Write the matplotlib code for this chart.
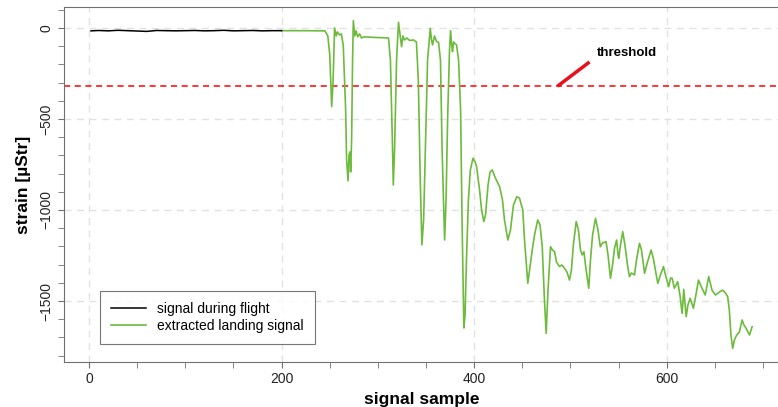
import matplotlib
matplotlib.use("Agg")
import matplotlib.pyplot as plt

plt.rcParams['font.family'] = ['Liberation Sans', 'DejaVu Sans']

# signal during flight (black)
flight_x = [2, 10, 20, 30, 40, 50, 60, 70, 80, 90, 100, 110, 120, 130, 140,
            150, 160, 170, 180, 190, 200]
flight_y = [-16, -14, -16, -13, -15, -17, -19, -14, -15, -16, -15, -14, -16,
            -15, -13, -16, -15, -14, -16, -15, -15]

# extracted landing signal (green)
land_x = [200, 219, 245, 248, 250, 252, 253.5, 255, 256.7, 258, 260, 262, 264,
          266.5, 267.5, 269, 270, 271, 271.7, 272.7, 273.7, 274.5, 276, 277.4,
          279, 281, 283, 286, 296, 311, 313, 315, 316, 317.3, 319.4, 321.4,
          323, 324.6, 326, 327.7, 330, 333, 337, 340, 342, 344, 345.7, 347.5,
          349.5, 351.6, 354.4, 355.7, 356.8, 358.8, 361, 363, 365, 366.7,
          369.3, 370.8, 372.4, 374.4, 375.5, 376.6, 377.5, 378.6, 379.6, 381.7,
          383.8, 385.9, 387.4, 389.3, 390.5, 392, 394, 396, 398.8, 401, 402.5,
          405.6, 407.7, 410, 411.8, 414.4, 416.5, 418.8, 422, 426.4, 429.4,
          431.5, 435, 437.7, 440.8, 444.3, 447, 450.5, 452.3, 455.7, 457.5,
          460.3, 462.7, 466, 468.4, 470.7, 473, 474.8, 476.7, 479.3, 481.3,
          483.5, 485.5, 488.6, 491, 493.8, 496.4, 499, 501, 503, 506, 508.3,
          510.4, 512.2, 514, 515.6, 519, 520.8, 523, 526, 528.6, 531, 533.3,
          537, 539, 541.6, 543.7, 545.8, 548, 549.4, 550.2, 552, 554.3, 556.6,
          559.2, 561.3, 563.4, 566.5, 568.6, 571.7, 573.8, 577, 580, 583.8,
          586, 590.7, 593.5, 596.6, 598.7, 602, 604, 605.6, 608, 611.4, 613.7,
          616, 617.7, 620.2, 622, 624.3, 627.7, 630.3, 633, 636, 640, 643.6,
          647, 650.6, 654.7, 658, 661, 663.3, 665, 666.7, 668.5, 670.3, 672.7,
          675.5, 678.3, 680.2, 682.5, 686, 688.7]
land_y = [-15, -15, -16, -44, -148, -432, -286, 0, -44, -22, -38, -33, -93,
          -450, -725, -840, -698, -681, -791, -615, -176, 40, -44, -16,
          -49, -33, -55, -49, -52, -55, -176, -615, -863, -670, -176, 31,
          -38, -103, -44, -66, -55, -69, -66, -77, -286, -835, -1192, -1055,
          -615, -176, -2, -66, -93, -44, -75, -79, -176, -670,
          -1165, -945, -505, -121, -15, -93, -130, -77, -84, -93,
          -176, -450, -1055, -1648, -1577, -1275, -945, -780, -716, -736, -762,
          -890, -1000, -1064, -1027, -863, -791, -780, -824, -872, -945,
          -1055, -1165, -1110, -973, -927, -934, -1000, -1165, -1403, -1330,
          -1220, -1137, -1055, -1082, -1202, -1495, -1678, -1440, -1202, -1220,
          -1229, -1286, -1311, -1302, -1320, -1341, -1385, -1330, -1192, -1064, -1110,
          -1220, -1247, -1229, -1302, -1430, -1275, -1137, -1046, -1110, -1202, -1181,
          -1174, -1247, -1375, -1302, -1209, -1165, -1247, -1265, -1192, -1119, -1192,
          -1302, -1366, -1346, -1357, -1275, -1183, -1220, -1348, -1286, -1220,
          -1264, -1403, -1357, -1311, -1357, -1421, -1374, -1375, -1430, -1394, -1467,
          -1568, -1436, -1586, -1522, -1485, -1540, -1467, -1385, -1423, -1467, -1366,
          -1440, -1467, -1451, -1440, -1456, -1476, -1549, -1687, -1760, -1714, -1687,
          -1670, -1604, -1632, -1650, -1687, -1641]

threshold = -320

fig = plt.figure(figsize=(7.78, 4.07), dpi=100)
ax = fig.add_axes([0.0823, 0.1106, 0.9207, 0.8722])

ax.plot(land_x, land_y, color='#6cbb3c', lw=1.2, label='extracted landing signal',
        zorder=3, solid_joinstyle='round')
ax.plot(flight_x, flight_y, color='black', lw=1.1, label='signal during flight', zorder=4)
ax.axhline(threshold, color='#ff0000', lw=1.1, ls=(0, (4, 3)), zorder=2)

ax.plot([486.6, 519.8], [threshold, -187], color='#e8101a', lw=2.5, solid_capstyle='butt')
ax.text(527, -137, 'threshold', fontsize=9.5, fontweight='bold', va='center', ha='left')

ax.set_xlim(-26, 718)
ax.set_ylim(-1835, 115)
ax.set_xticks([0, 200, 400, 600])
ax.set_xticks(range(0, 701, 50), minor=True)
ax.set_yticks([0, -500, -1000, -1500])
ax.set_yticks(range(-1800, 101, 100), minor=True)
ax.grid(True, which='major', color='#e2e2e2', ls=(0, (5, 4)), lw=1)
ax.set_axisbelow(True)

for side in ['top', 'bottom', 'left', 'right']:
    ax.spines[side].set_color('#707070')
ax.tick_params(which='both', direction='out', length=4, color='#707070', labelsize=10, labelcolor='#222222')
for lbl in ax.get_yticklabels():
    lbl.set_rotation(90)
    lbl.set_va('center')

ax.set_xlabel('signal sample', fontsize=12.5, fontweight='bold', labelpad=4)
ax.set_ylabel('strain [µStr]', fontsize=12.5, fontweight='bold', labelpad=6)

handles, labels = ax.get_legend_handles_labels()
leg = ax.legend(handles[::-1], labels[::-1], loc='lower left', bbox_to_anchor=(0.05, 0.05),
                borderaxespad=0, fancybox=False, edgecolor='#555555', fontsize=10,
                handlelength=2.5, borderpad=0.8, labelspacing=0.2)
leg.get_frame().set_linewidth(0.8)

fig.savefig('out.png', dpi=100)
